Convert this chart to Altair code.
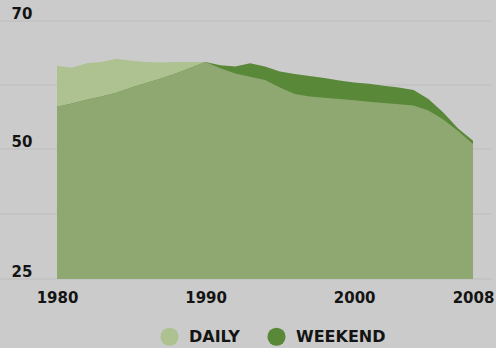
import altair as alt
import pandas as pd

years = list(range(1980, 2009))
daily = [63.0, 62.7, 63.4, 63.6, 64.1, 63.8, 63.6, 63.5, 63.6, 63.6, 63.6,
         62.6, 61.8, 61.3, 60.8, 59.6, 58.6, 58.2, 58.0, 57.8, 57.6, 57.4,
         57.2, 57.0, 56.8, 56.0, 54.6, 52.8, 50.8]
weekend = [56.6, 57.1, 57.7, 58.2, 58.8, 59.6, 60.3, 61.0, 61.8, 62.7, 63.6,
           63.1, 62.9, 63.4, 62.9, 62.1, 61.7, 61.4, 61.1, 60.7, 60.4, 60.2,
           59.9, 59.6, 59.2, 57.8, 55.7, 53.2, 51.3]
series_names = ["DAILY", "WEEKEND"]
series_colors = ["#adc290", "#598838"]
overlap_color = "#8fa872"
y_label_values = [25, 50, 70]
grid_values = [25, 37.5, 50, 60, 70]
x_tick_values = [1980, 1990, 2000, 2008]

FONT = "DejaVu Sans"

wide = pd.DataFrame({"year": years, "DAILY": daily, "WEEKEND": weekend})
long = wide.melt("year", var_name="series", value_name="value")

yscale = alt.Scale(domain=[25, 50, 70], range=[258, 128, 0], zero=False, nice=False)
xscale = alt.Scale(domain=[1980, 2008], nice=False, zero=False)

x_axis = alt.Axis(values=x_tick_values, format="d", labelFlush=False, grid=False,
                  domain=False, ticks=False, labelPadding=11, title=None,
                  labelFont=FONT, labelFontSize=15, labelFontWeight="bold",
                  labelColor="#141414", labelBaseline="top")
y_axis = alt.Axis(values=y_label_values, grid=False, domain=False, ticks=False,
                  labelAlign="left", labelPadding=46, labelOffset=-8,
                  labelBaseline="middle", labelOverlap=False, title=None,
                  labelFont=FONT, labelFontSize=15, labelFontWeight="bold",
                  labelColor="#141414")

grid = alt.Chart(pd.DataFrame({"g": grid_values})).mark_rule(
    color="#bdbdbd", strokeWidth=1
).encode(
    y=alt.Y("g:Q", scale=yscale, axis=y_axis),
    x=alt.value(-57),
    x2=alt.value(435),
)

areas = alt.Chart(long).mark_area(interpolate="linear").encode(
    x=alt.X("year:Q", scale=xscale, axis=x_axis),
    y=alt.Y("value:Q", scale=yscale, axis=y_axis),
    y2=alt.datum(25),
    color=alt.Color(
        "series:N",
        scale=alt.Scale(domain=series_names, range=series_colors),
        legend=alt.Legend(
            orient="none", legendX=103, legendY=306, direction="horizontal",
            title=None, symbolType="circle", symbolSize=330,
            symbolStrokeWidth=0, symbolOpacity=1, labelFont=FONT,
            labelFontSize=16, labelFontWeight="bold", labelColor="#141414",
            columnPadding=27, labelOffset=10,
        ),
    ),
)

overlap = alt.Chart(wide).transform_calculate(
    low="min(datum.DAILY, datum.WEEKEND)"
).mark_area(color=overlap_color, interpolate="linear").encode(
    x=alt.X("year:Q", scale=xscale, axis=x_axis),
    y=alt.Y("low:Q", scale=yscale, axis=y_axis),
    y2=alt.datum(25),
)

chart = alt.layer(grid, areas, overlap).properties(
    width=416,
    height=258,
    autosize=alt.AutoSizeParams(type="none"),
    padding={"left": 57, "top": 21, "right": 23, "bottom": 69},
    background="#cbcbcb",
).configure_view(stroke=None)

chart.save("out.html", embed_options={"renderer": "svg", "actions": False})
